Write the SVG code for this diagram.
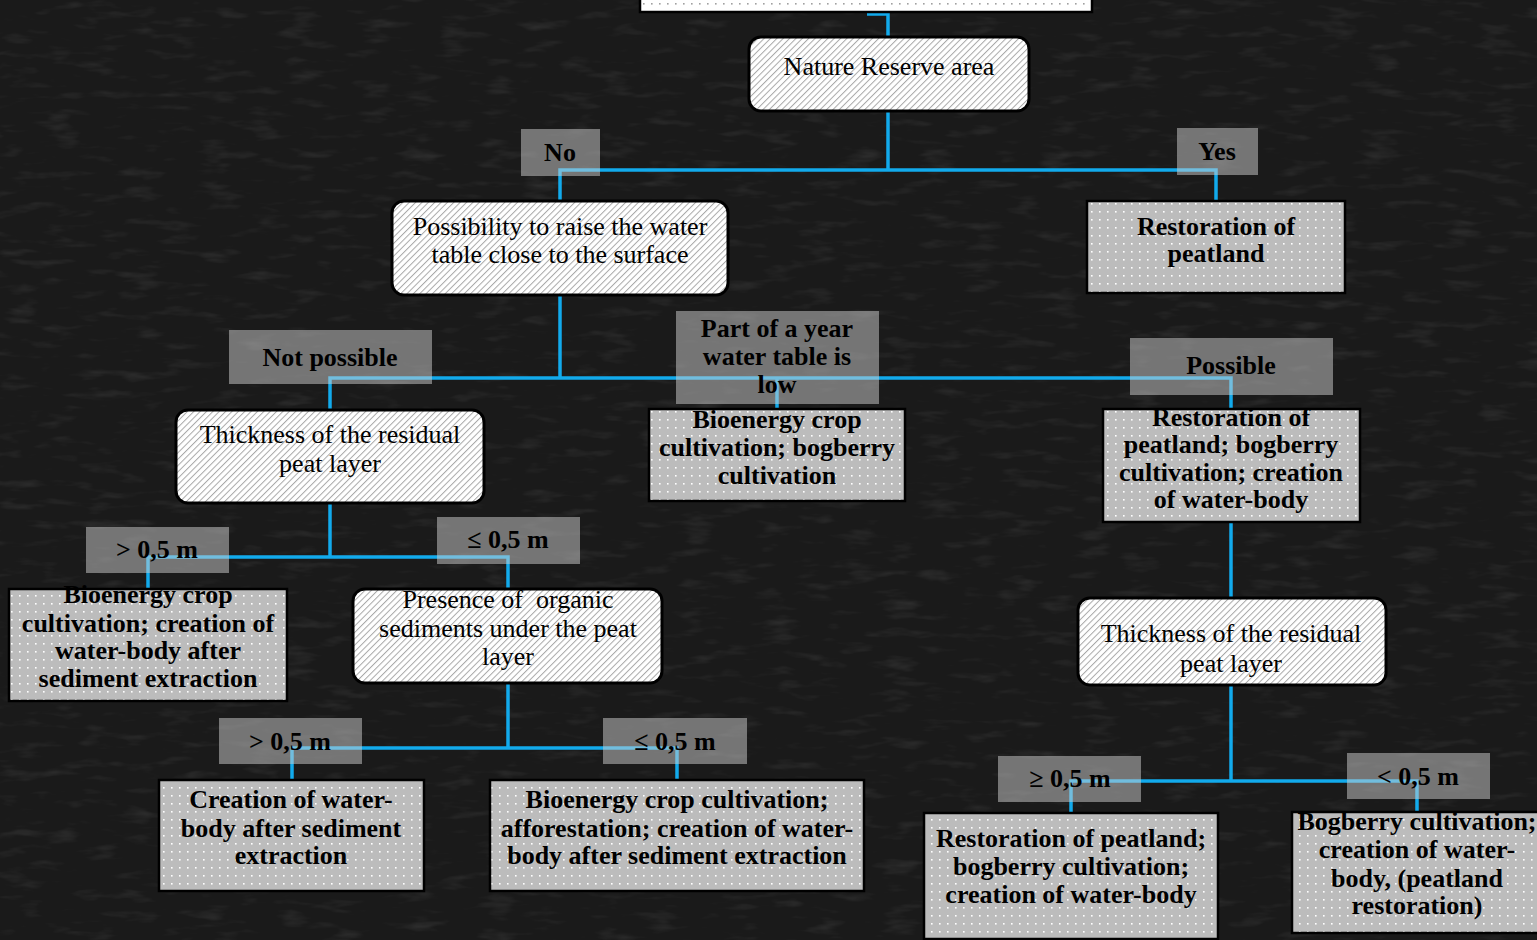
<svg xmlns="http://www.w3.org/2000/svg" width="1537" height="940" viewBox="0 0 1537 940">
<defs>
<pattern id="hatch" patternUnits="userSpaceOnUse" width="4.5" height="4.5" patternTransform="rotate(45)">
<rect width="4.5" height="4.5" fill="#ffffff"/>
<rect x="0" y="0" width="1" height="4.5" fill="#a8a8a8"/>
</pattern>
<pattern id="dots" patternUnits="userSpaceOnUse" width="8" height="8">
<rect width="8" height="8" fill="#bcbcbc"/>
<rect x="3" y="3" width="1.6" height="1.6" fill="#ffffff"/>
</pattern>
<pattern id="dotsw" patternUnits="userSpaceOnUse" width="8" height="8">
<rect width="8" height="8" fill="#ffffff"/>
<rect x="3" y="3" width="1.6" height="1.6" fill="#a0a0a0"/>
</pattern>
<filter id="grain" x="0" y="0" width="100%" height="100%">
<feTurbulence type="fractalNoise" baseFrequency="0.025 0.1" numOctaves="3" seed="4" result="n"/>
<feColorMatrix type="matrix" values="0 0 0 0 1  0 0 0 0 1  0 0 0 0 1  0 0 0 0.7 -0.38"/>
</filter>
</defs>
<style>
.bg{fill:#1a1a1a}
.dec{fill:url(#hatch);stroke:#000;stroke-width:3}
.res{fill:url(#dots);stroke:#000;stroke-width:2.5}
.lab{fill:#cfcfcf;fill-opacity:0.5}
.con{fill:none;stroke:#12aaec;stroke-width:3.5}
text{font-family:"Liberation Serif","Times New Roman",serif;font-size:26px;fill:#000;text-anchor:middle;white-space:pre}
.b{font-weight:bold}
</style>
<rect class="bg" x="0" y="0" width="1537" height="940"/>
<rect x="0" y="0" width="1537" height="940" filter="url(#grain)" opacity="0.3"/>

<g id="connectors">
<path class="con" d="M867,14 H888 V37"/>
<path class="con" d="M888,111 V170"/>
<path class="con" d="M560,201 V170 H1216 V201"/>
<path class="con" d="M560,295 V378"/>
<path class="con" d="M330,410 V378 H1231 V410"/>
<path class="con" d="M777,378 V410"/>
<path class="con" d="M1231,522 V598"/>
<path class="con" d="M1231,685 V781"/>
<path class="con" d="M1071,813 V781 H1417 V812"/>
<path class="con" d="M330,503 V557"/>
<path class="con" d="M148,589 V557 H508 V589"/>
<path class="con" d="M508,683 V748"/>
<path class="con" d="M292,780 V748 H677 V780"/>
</g>

<g id="top"><rect x="640" y="-10" width="452" height="22" fill="url(#dotsw)" stroke="#000" stroke-width="2.5"/></g>

<g id="nature"><rect class="dec" x="749" y="37" width="280" height="74" rx="12"/><text x="889" y="75">Nature Reserve area</text></g>

<g id="lab-no"><rect class="lab" x="521" y="129" width="79" height="47"/><text class="b" x="560" y="161">No</text></g>
<g id="lab-yes"><rect class="lab" x="1177" y="128" width="81" height="47"/><text class="b" x="1217" y="160">Yes</text></g>

<g id="possibility"><rect class="dec" x="392" y="201" width="336" height="94" rx="12"/><text x="560" y="235">Possibility to raise the water</text><text x="560" y="263">table close to the surface</text></g>

<g id="restoration1"><rect class="res" x="1087" y="201" width="258" height="92"/><text class="b" x="1216" y="235">Restoration of</text><text class="b" x="1216" y="262">peatland</text></g>

<g id="lab-notpossible"><rect class="lab" x="229" y="330" width="203" height="54"/><text class="b" x="330" y="366">Not possible</text></g>
<g id="lab-partyear"><rect class="lab" x="676" y="311" width="203" height="93"/><text class="b" x="777" y="337">Part of a year</text><text class="b" x="777" y="365">water table is</text><text class="b" x="777" y="393">low</text></g>
<g id="lab-possible"><rect class="lab" x="1130" y="338" width="203" height="57"/><text class="b" x="1231" y="374">Possible</text></g>

<g id="thickness1"><rect class="dec" x="176" y="410" width="308" height="93" rx="12"/><text x="330" y="443">Thickness of the residual</text><text x="330" y="472">peat layer</text></g>

<g id="bioenergy1"><rect class="res" x="649" y="409" width="256" height="92"/><text class="b" x="777" y="428">Bioenergy crop</text><text class="b" x="777" y="456">cultivation; bogberry</text><text class="b" x="777" y="484">cultivation</text></g>

<g id="restoration2"><rect class="res" x="1103" y="409" width="257" height="113"/><text class="b" x="1231" y="426">Restoration of</text><text class="b" x="1231" y="453">peatland; bogberry</text><text class="b" x="1231" y="481">cultivation; creation</text><text class="b" x="1231" y="508">of water-body</text></g>

<g id="lab-gt1"><rect class="lab" x="86" y="527" width="143" height="46"/><text class="b" x="157" y="558">&gt; 0,5 m</text></g>
<g id="lab-le1"><rect class="lab" x="437" y="517" width="143" height="47"/><text class="b" x="508" y="548">≤ 0,5 m</text></g>

<g id="bioenergy2"><rect class="res" x="9" y="589" width="278" height="112"/><text class="b" x="148" y="603">Bioenergy crop</text><text class="b" x="148" y="632">cultivation; creation of</text><text class="b" x="148" y="659">water-body after</text><text class="b" x="148" y="687">sediment extraction</text></g>

<g id="presence"><rect class="dec" x="353" y="589" width="309" height="94" rx="12"/><text x="508" y="608">Presence of  organic</text><text x="508" y="637">sediments under the peat</text><text x="508" y="665">layer</text></g>

<g id="thickness2"><rect class="dec" x="1078" y="598" width="308" height="87" rx="12"/><text x="1231" y="642">Thickness of the residual</text><text x="1231" y="672">peat layer</text></g>

<g id="lab-gt2"><rect class="lab" x="219" y="718" width="143" height="46"/><text class="b" x="290" y="750">&gt; 0,5 m</text></g>
<g id="lab-le2"><rect class="lab" x="603" y="718" width="144" height="46"/><text class="b" x="675" y="750">≤ 0,5 m</text></g>
<g id="lab-ge3"><rect class="lab" x="998" y="756" width="143" height="46"/><text class="b" x="1070" y="787">≥ 0,5 m</text></g>
<g id="lab-lt3"><rect class="lab" x="1347" y="753" width="143" height="46"/><text class="b" x="1418" y="785">&lt; 0,5 m</text></g>

<g id="creation"><rect class="res" x="159" y="780" width="265" height="111"/><text class="b" x="291" y="808">Creation of water-</text><text class="b" x="291" y="837">body after sediment</text><text class="b" x="291" y="864">extraction</text></g>

<g id="bioenergy3"><rect class="res" x="490" y="780" width="374" height="111"/><text class="b" x="677" y="808">Bioenergy crop cultivation;</text><text class="b" x="677" y="837">afforestation; creation of water-</text><text class="b" x="677" y="864">body after sediment extraction</text></g>

<g id="restoration3"><rect class="res" x="924" y="813" width="294" height="126"/><text class="b" x="1071" y="847">Restoration of peatland;</text><text class="b" x="1071" y="875">bogberry cultivation;</text><text class="b" x="1071" y="903">creation of water-body</text></g>

<g id="bogberry"><rect class="res" x="1292" y="812" width="260" height="121"/><text class="b" x="1417" y="830">Bogberry cultivation;</text><text class="b" x="1417" y="858">creation of water-</text><text class="b" x="1417" y="887">body, (peatland</text><text class="b" x="1417" y="914">restoration)</text></g>
</svg>
